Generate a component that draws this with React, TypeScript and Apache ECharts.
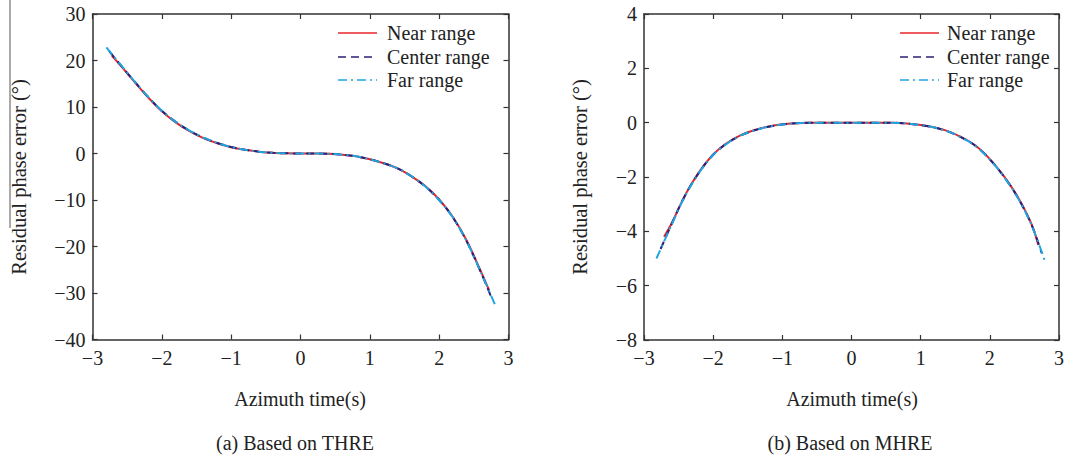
import React, { useEffect, useRef } from "react";
import * as echarts from "echarts";

// ---------- Data ----------
// (a) Based on THRE
const threTimeNear = [-2.72, -2.6, -2.4, -2.2, -2.0, -1.8, -1.6, -1.4, -1.2, -1.0, -0.8, -0.6, -0.4, -0.2, 0, 0.2, 0.4, 0.6, 0.8, 1.0, 1.2, 1.4, 1.6, 1.8, 2.0, 2.2, 2.4, 2.6, 2.72];
const threNear = [21.0, 19.0, 15.5, 12.1, 9.1, 6.7, 4.8, 3.3, 2.2, 1.35, 0.8, 0.4, 0.15, 0.04, 0, -0.02, -0.08, -0.25, -0.6, -1.25, -2.1, -3.2, -4.9, -7.0, -9.9, -13.7, -18.8, -25.3, -29.4];
const threTimeCenter = [-2.76, -2.6, -2.4, -2.2, -2.0, -1.8, -1.6, -1.4, -1.2, -1.0, -0.8, -0.6, -0.4, -0.2, 0, 0.2, 0.4, 0.6, 0.8, 1.0, 1.2, 1.4, 1.6, 1.8, 2.0, 2.2, 2.4, 2.6, 2.76];
const threCenter = [22.0, 19.1, 15.6, 12.2, 9.2, 6.8, 4.9, 3.4, 2.25, 1.4, 0.8, 0.4, 0.15, 0.04, 0, -0.01, -0.06, -0.25, -0.6, -1.25, -2.1, -3.2, -4.9, -7.1, -10.0, -13.8, -19.0, -25.5, -31.2];
const threTimeFar = [-2.8, -2.6, -2.4, -2.2, -2.0, -1.8, -1.6, -1.4, -1.2, -1.0, -0.8, -0.6, -0.4, -0.2, 0, 0.2, 0.4, 0.6, 0.8, 1.0, 1.2, 1.4, 1.6, 1.8, 2.0, 2.2, 2.4, 2.6, 2.82];
const threFar = [22.8, 19.2, 15.6, 12.2, 9.2, 6.8, 4.9, 3.4, 2.25, 1.4, 0.8, 0.4, 0.15, 0.04, 0, -0.01, -0.06, -0.25, -0.6, -1.25, -2.1, -3.2, -4.9, -7.1, -10.0, -13.8, -19.0, -25.5, -33.0];

// (b) Based on MHRE
const mhreTimeNear = [-2.71, -2.6, -2.4, -2.2, -2.0, -1.8, -1.6, -1.4, -1.2, -1.0, -0.8, -0.6, -0.4, -0.2, 0, 0.2, 0.4, 0.6, 0.8, 1.0, 1.2, 1.4, 1.6, 1.8, 2.0, 2.2, 2.4, 2.6, 2.7];
const mhreNear = [-4.2, -3.7, -2.64, -1.8, -1.17, -0.75, -0.46, -0.27, -0.14, -0.06, -0.02, 0, 0, 0, 0, 0, 0, 0, -0.03, -0.09, -0.18, -0.32, -0.55, -0.86, -1.34, -1.96, -2.72, -3.72, -4.5];
const mhreTimeCenter = [-2.76, -2.6, -2.4, -2.2, -2.0, -1.8, -1.6, -1.4, -1.2, -1.0, -0.8, -0.6, -0.4, -0.2, 0, 0.2, 0.4, 0.6, 0.8, 1.0, 1.2, 1.4, 1.6, 1.8, 2.0, 2.2, 2.4, 2.6, 2.75];
const mhreCenter = [-4.65, -3.73, -2.65, -1.82, -1.18, -0.76, -0.47, -0.28, -0.15, -0.07, -0.02, 0, 0, 0, 0, 0, 0, 0, -0.03, -0.09, -0.18, -0.33, -0.56, -0.87, -1.35, -1.97, -2.74, -3.74, -4.8];
const mhreTimeFar = [-2.82, -2.6, -2.4, -2.2, -2.0, -1.8, -1.6, -1.4, -1.2, -1.0, -0.8, -0.6, -0.4, -0.2, 0, 0.2, 0.4, 0.6, 0.8, 1.0, 1.2, 1.4, 1.6, 1.8, 2.0, 2.2, 2.4, 2.6, 2.79];
const mhreFar = [-5.0, -3.75, -2.67, -1.83, -1.19, -0.77, -0.47, -0.28, -0.15, -0.07, -0.02, 0, 0, 0, 0, 0, 0, 0, -0.03, -0.09, -0.18, -0.33, -0.56, -0.87, -1.36, -1.98, -2.75, -3.75, -5.05];

const seriesNames = ["Near range", "Center range", "Far range"];
const xTicks = { min: -3, max: 3, interval: 1 };
const yTicksA = { min: -40, max: 30, interval: 10 };
const yTicksB = { min: -8, max: 4, interval: 2 };
const xAxisTitle = "Azimuth time(s)";
const yAxisTitle = "Residual phase error (°)";
const captions = ["(a) Based on THRE", "(b) Based on MHRE"];

// ---------- Styles ----------
const FONT = "'Liberation Serif', 'Times New Roman', serif";
const FS = 20;
const TEXT = "#222";
const AXIS = "#333";
const colors = ["#e8262a", "#2a2275", "#1fa6e0"];
const dashes: any[] = ["solid", [8, 5], [9, 4, 2, 4]];

const pairs = (t: number[], v: number[]) => t.map((x, i) => [x, v[i]]);
const minusFmt = (v: number) => String(v).replace("-", "\u2212");

function axisPair(grid: number, base: any, isX: boolean) {
  const common = {
    gridIndex: grid,
    type: "value",
    ...base,
    axisLine: { show: true, onZero: false, lineStyle: { color: AXIS, width: 1.5 } },
    axisTick: { show: true, inside: true, length: 5, lineStyle: { color: AXIS, width: 1.2 } },
    splitLine: { show: false },
  };
  return [
    {
      ...common,
      position: isX ? "bottom" : "left",
      axisLabel: {
        show: true,
        fontFamily: FONT,
        fontSize: FS,
        color: TEXT,
        margin: isX ? 8 : 7,
        formatter: minusFmt,
      },
    },
    {
      ...common,
      position: isX ? "top" : "right",
      axisLabel: { show: false },
    },
  ];
}

function lineSeries(name: string, idx: number, grid: number, data: number[][]) {
  return {
    name,
    type: "line",
    xAxisIndex: grid * 2,
    yAxisIndex: grid * 2,
    data,
    showSymbol: false,
    symbol: "none",
    smooth: 0.35,
    lineStyle: { color: colors[idx], width: 2, type: dashes[idx] },
    z: 2 + idx,
  };
}

function legendGraphics(x0: number, textX: number) {
  const rows = [33, 57, 80];
  const items: any[] = [];
  seriesNames.forEach((n, i) => {
    items.push({
      type: "line",
      shape: { x1: x0, y1: rows[i], x2: x0 + 39, y2: rows[i] },
      style: {
        stroke: colors[i],
        lineWidth: 1.7,
        lineDash: i === 0 ? null : dashes[i],
      },
    });
    items.push({
      type: "text",
      x: textX,
      y: rows[i],
      style: {
        text: n,
        font: `${FS}px ${FONT}`,
        fill: TEXT,
        textAlign: "left",
        textVerticalAlign: "middle",
      },
    });
  });
  return items;
}

function txt(text: string, x: number, y: number, rotate = 0, size = FS) {
  return {
    type: "text",
    x,
    y,
    rotation: rotate,
    style: {
      text,
      font: `${size}px ${FONT}`,
      fill: TEXT,
      textAlign: "center",
      textVerticalAlign: "middle",
    },
  };
}

export default function App() {
  const ref = useRef<HTMLDivElement>(null);
  useEffect(() => {
    if (!ref.current) return;
    const chart = echarts.init(ref.current, null, { renderer: "svg" });
    const option: any = {
      animation: false,
      backgroundColor: "#ffffff",
      grid: [
        { left: 92.5, top: 14, width: 416, height: 325.5 },
        { left: 644, top: 14, width: 416, height: 326 },
      ],
      xAxis: [...axisPair(0, xTicks, true), ...axisPair(1, xTicks, true)],
      yAxis: [...axisPair(0, yTicksA, false), ...axisPair(1, yTicksB, false)],
      series: [
        lineSeries(seriesNames[0], 0, 0, pairs(threTimeNear, threNear)),
        lineSeries(seriesNames[1], 1, 0, pairs(threTimeCenter, threCenter)),
        lineSeries(seriesNames[2], 2, 0, pairs(threTimeFar, threFar)),
        lineSeries(seriesNames[0], 0, 1, pairs(mhreTimeNear, mhreNear)),
        lineSeries(seriesNames[1], 1, 1, pairs(mhreTimeCenter, mhreCenter)),
        lineSeries(seriesNames[2], 2, 1, pairs(mhreTimeFar, mhreFar)),
      ],
      graphic: [
        ...legendGraphics(338, 387),
        ...legendGraphics(900, 947),
        txt(xAxisTitle, 300, 399),
        txt(xAxisTitle, 852, 399),
        txt(captions[0], 295, 443),
        txt(captions[1], 850, 443),
        txt(yAxisTitle, 19, 177, Math.PI / 2, 20.5),
        txt(yAxisTitle, 580, 177, Math.PI / 2, 20.5),
        {
          type: "line",
          shape: { x1: 10, y1: 0, x2: 10, y2: 228 },
          style: { stroke: "#555", lineWidth: 1 },
        },
      ],
    };
    chart.setOption(option);
    return () => chart.dispose();
  }, []);
  return (
    <div
      ref={ref}
      style={{ position: "fixed", left: 0, top: 0, width: 1067, height: 460, background: "#fff" }}
    />
  );
}
